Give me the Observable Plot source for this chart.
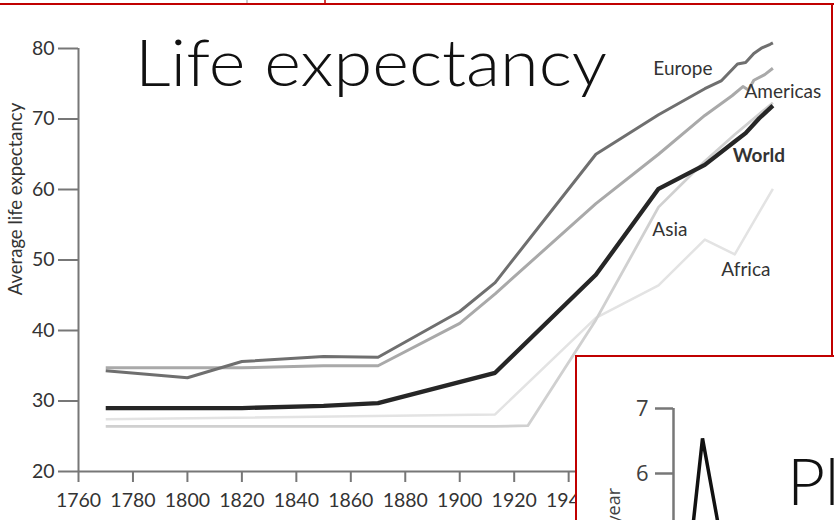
<!DOCTYPE html>
<html><head><meta charset="utf-8">
<script src="https://cdn.jsdelivr.net/npm/d3@7"></script>
<script src="https://cdn.jsdelivr.net/npm/@observablehq/plot@0.6"></script>
<style>
html,body{margin:0;padding:0;background:#fff;}
#wrap{position:relative;width:834px;height:520px;overflow:hidden;background:#fff;}
#wrap > *{position:absolute;}
#box{left:575px;top:355px;width:300px;height:220px;border-left:2px solid #c00000;border-top:2px solid #c00000;background:#fff;}
</style></head>
<body><div id="wrap"></div>
<script>
// ---- main chart data ----
const xTicks = [1760,1780,1800,1820,1840,1860,1880,1900,1920,1940,1960,1980,2000,2020];
const yTicks = [20,30,40,50,60,70,80];

const europeYears  = [1770,1800,1820,1850,1870,1900,1913,1950,1973,1990,1996,2002,2005,2008,2011,2014,2015];
const europeValues = [34.3,33.3,35.6,36.3,36.2,42.7,46.8,65.0,70.6,74.3,75.4,77.8,78.0,79.3,80.1,80.6,80.8];

const americasYears  = [1770,1800,1820,1850,1870,1900,1913,1950,1973,1990,2000,2004,2006,2008,2012,2015];
const americasValues = [34.7,34.7,34.7,35.0,35.0,41.0,45.2,58.0,65.0,70.5,73.3,74.6,74.1,75.5,76.3,77.2];

const worldYears  = [1770,1800,1820,1850,1870,1913,1950,1973,1990,2001,2005,2010,2015];
const worldValues = [29.0,29.0,29.0,29.3,29.7,34.0,47.9,60.1,63.5,66.8,68.0,70.1,71.9];

const asiaYears  = [1770,1913,1925,1950,1973,1990,2001,2015];
const asiaValues = [26.4,26.4,26.5,41.5,57.5,64.0,67.8,72.3];

const africaYears  = [1770,1913,1950,1973,1990,2001,2015];
const africaValues = [27.4,28.1,41.8,46.4,52.9,50.8,60.1];

// ---- second (overlapping) slide data ----
const spikeX = [1,2,3,4];
const spikeY = [4.5,6.54,5.32,4.0];
const spikeTicks = [4,5,6,7];

const rows = (years, vals) => years.map((year,i) => ({year, value: vals[i]}));
const last = (years, vals) => [{year: years[years.length-1], value: vals[vals.length-1]}];

const europe = rows(europeYears, europeValues);
const americas = rows(americasYears, americasValues);
const world = rows(worldYears, worldValues);
const asia = rows(asiaYears, asiaValues);
const africa = rows(africaYears, africaValues);

const lab = {fontFamily:"Lato", fontSize:19, fill:"#333"};
const lineOpts = (stroke, w) => ({x:"year", y:"value", stroke, strokeWidth:w, strokeLinejoin:"round", strokeLinecap:"butt"});

const main = Plot.plot({
  width: 834, height: 520,
  marginLeft: 78, marginRight: 48, marginTop: 48, marginBottom: 49,
  x: {domain:[1760,2020]},
  y: {domain:[20,80]},
  style: {fontFamily:"Lato", fontSize:"19px", color:"#333", background:"transparent"},
  marks: [
    Plot.ruleX([1760], {stroke:"#777", strokeWidth:2}),
    Plot.ruleY([20], {stroke:"#777", strokeWidth:2}),
    Plot.axisY({ticks:yTicks, tickSize:20, tickPadding:4, stroke:"#777", strokeWidth:2, fill:"#333",
      tickFormat:d=>String(d), label:null}),
    Plot.axisX({ticks:xTicks, tickSize:11, tickPadding:11, stroke:"#777", strokeWidth:2, fill:"#333",
      tickFormat:d=>String(d), label:null}),
    Plot.line(africa, lineOpts("#e3e3e3", 2.5)),
    Plot.line(asia, lineOpts("#d0d0d0", 2.8)),
    Plot.line(americas, lineOpts("#a9a9a9", 3)),
    Plot.line(europe, lineOpts("#6f6f6f", 3)),
    Plot.line(world, lineOpts("#262626", 4.3)),
    Plot.text(last(europeYears, europeValues), {x:"year", y:"value", text:()=>"Europe", dx:-90, dy:26, ...lab}),
    Plot.text(last(americasYears, americasValues), {x:"year", y:"value", text:()=>"Americas", dx:10, dy:24, ...lab}),
    Plot.text(last(worldYears, worldValues), {x:"year", y:"value", text:()=>"World", dx:-14, dy:50, ...lab, fontWeight:"bold"}),
    Plot.text(last(asiaYears, asiaValues), {x:"year", y:"value", text:()=>"Asia", dx:-103, dy:127, ...lab}),
    Plot.text(last(africaYears, africaValues), {x:"year", y:"value", text:()=>"Africa", dx:-27, dy:81, ...lab})
  ]
});

// size of the tick labels of the main chart
main.querySelectorAll('g[aria-label$="tick label"]').forEach(g => {
  g.setAttribute("font-size", "19.5");
  g.style.fontSize = "19.5px";
  g.querySelectorAll("text").forEach(t => { t.style.fontSize = "19.5px"; });
});

const second = Plot.plot({
  width: 259, height: 260,
  marginLeft: 98, marginRight: 16, marginTop: 51, marginBottom: 14,
  x: {domain:[0,10], axis:null},
  y: {domain:[4,7]},
  style: {fontFamily:"Open Sans", fontSize:"22px", color:"#404040", background:"transparent", overflow:"visible"},
  marks: [
    Plot.ruleX([0], {stroke:"#777", strokeWidth:2.5}),
    Plot.axisY({ticks:spikeTicks, tickSize:18, tickPadding:7, stroke:"#777", strokeWidth:2.5, fill:"#404040",
      tickFormat:d=>String(d), label:null}),
    Plot.line(spikeX.map((x,i)=>({x, y:spikeY[i]})), {x:"x", y:"y", stroke:"#111", strokeWidth:3.5, strokeLinejoin:"miter"})
  ]
});
second.querySelectorAll('g[aria-label$="tick label"] text').forEach(t => { t.style.fontSize = "22px"; });

const wrap = document.getElementById("wrap");
main.style.left = "0px"; main.style.top = "0px";
wrap.appendChild(main);
const box = document.createElement("div"); box.id = "box"; wrap.appendChild(box);
second.style.left = "575px"; second.style.top = "357px";
wrap.appendChild(second);

const ns = "http://www.w3.org/2000/svg";
const deco = document.createElementNS(ns, "svg");
deco.setAttribute("width", 834); deco.setAttribute("height", 520);
deco.style.left = "0px"; deco.style.top = "0px";
deco.innerHTML = `
  <line x1="0" y1="4" x2="834" y2="4" stroke="#c00000" stroke-width="2"/>
  <line x1="832" y1="4" x2="832" y2="356" stroke="#c00000" stroke-width="2"/>
  <line x1="325" y1="0" x2="325" y2="4" stroke="#c00000" stroke-width="1.5"/>
  <line x1="247" y1="0" x2="247" y2="3" stroke="#999" stroke-width="1"/>
  <text transform="translate(22,199) rotate(-90)" text-anchor="middle" font-family="Lato" font-size="18.5" fill="#333">Average life expectancy</text>
  <text x="135" y="86" font-family="Lato" font-weight="300" font-size="66" fill="#111" textLength="472" lengthAdjust="spacingAndGlyphs">Life expectancy</text>
  <text x="787" y="505" font-family="Lato" font-weight="300" font-size="66" fill="#111">Pl</text>
  <text transform="translate(620,488) rotate(-90)" text-anchor="end" font-family="Open Sans" font-size="18" fill="#404040">year</text>
`;
wrap.appendChild(deco);
</script>
</body></html>
